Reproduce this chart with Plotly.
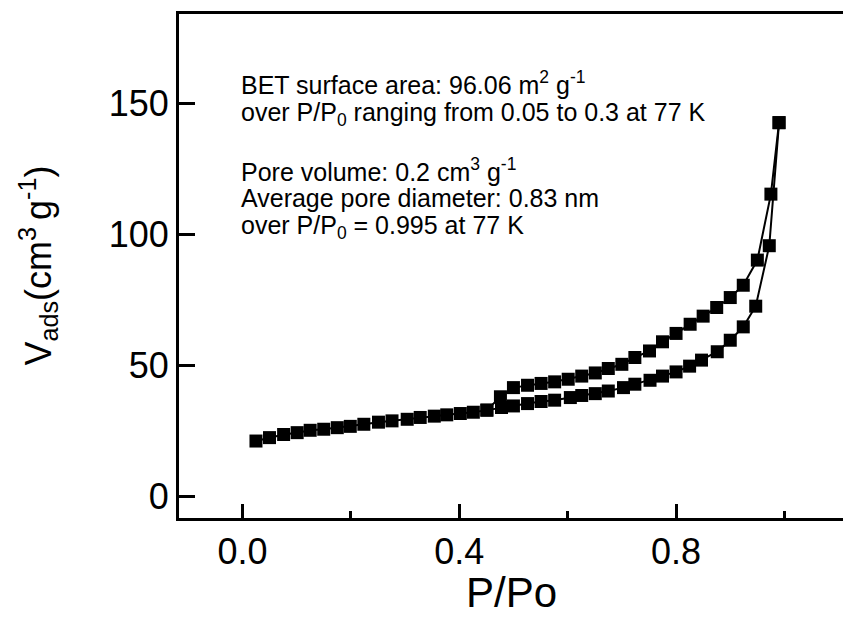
import plotly.graph_objects as go

# Adsorption branch
ads_p = [0.025, 0.050, 0.076, 0.101, 0.125, 0.150, 0.175, 0.199, 0.224, 0.251,
         0.276, 0.304, 0.328, 0.354, 0.377, 0.402, 0.426, 0.451, 0.478, 0.500,
         0.526, 0.551, 0.576, 0.605, 0.626, 0.651, 0.675, 0.703, 0.724, 0.752,
         0.775, 0.800, 0.825, 0.847, 0.876, 0.900, 0.924, 0.947, 0.972, 0.990]
ads_v = [21.0, 22.3, 23.5, 24.2, 25.1, 25.5, 26.1, 26.6, 27.4, 28.2,
         28.7, 29.3, 30.0, 30.5, 31.0, 31.5, 32.0, 32.8, 33.8, 34.4,
         35.3, 36.1, 36.6, 37.6, 38.4, 39.1, 40.1, 41.4, 42.7, 44.2,
         45.8, 47.4, 49.6, 51.9, 55.1, 59.5, 64.6, 72.5, 95.6, 142.6]

# Desorption branch
des_p = [0.990, 0.975, 0.950, 0.924, 0.900, 0.875, 0.850, 0.826, 0.800, 0.775,
         0.751, 0.724, 0.700, 0.675, 0.651, 0.626, 0.601, 0.576, 0.551, 0.526,
         0.500, 0.476, 0.451]
des_v = [142.6, 115.3, 90.1, 80.5, 75.8, 72.0, 68.7, 65.6, 62.1, 58.9,
         55.4, 52.9, 50.3, 48.7, 47.0, 45.8, 44.6, 43.6, 43.0, 42.3,
         41.4, 37.9, 32.8]

x_ticks = [0.0, 0.4, 0.8]
x_ticktext = ["0.0", "0.4", "0.8"]
x_minor = [0.2, 0.6, 1.0]
y_ticks = [0, 50, 100, 150]

notes = [
    ("BET surface area: 96.06 m<sup>2</sup> g<sup>-1</sup>", 157.6),
    ("over P/P<sub>0</sub> ranging from 0.05 to 0.3 at 77 K", 145.8),
    ("Pore volume: 0.2 cm<sup>3</sup> g<sup>-1</sup>", 124.6),
    ("Average pore diameter: 0.83 nm", 113.9),
    ("over P/P<sub>0</sub> = 0.995 at 77 K", 102.9),
]

FONT = "Liberation Sans, Arial, sans-serif"

fig = go.Figure()
for xs, ys in [(ads_p, ads_v), (des_p, des_v)]:
    fig.add_trace(go.Scatter(
        x=xs, y=ys, mode="lines+markers",
        line=dict(color="black", width=2),
        marker=dict(symbol="square", size=13, color="black"),
        showlegend=False,
    ))

for txt, yv in notes:
    fig.add_annotation(x=-0.005, y=yv, xref="x", yref="y", text=txt,
                       showarrow=False, xanchor="left", yanchor="middle",
                       borderpad=0,
                       font=dict(family=FONT, size=25, color="black"))

fig.add_annotation(x=0.5, y=-0.197, xref="paper", yref="paper", text="P/Po",
                   showarrow=False, xanchor="center", yanchor="bottom",
                   borderpad=0,
                   font=dict(family=FONT, size=42, color="black"))
fig.add_annotation(x=-0.213, y=0.5, xref="paper", yref="paper",
                   text="V<sub>ads</sub>(cm<sup>3 </sup>g<sup>-1</sup>)",
                   textangle=-90, showarrow=False, xanchor="center", yanchor="middle",
                   font=dict(family=FONT, size=36, color="black"))

fig.update_layout(
    width=843, height=617,
    margin=dict(l=178.5, r=0, t=14, b=99.3, pad=0),
    paper_bgcolor="white", plot_bgcolor="white",
    font=dict(family=FONT, color="black"),
)
fig.update_xaxes(
    range=[-0.117, 1.108], showgrid=False, zeroline=False,
    showline=True, linecolor="black", linewidth=3, mirror=True,
    tickvals=x_ticks, ticktext=x_ticktext, ticks="inside", ticklen=14,
    tickwidth=2.5, tickcolor="black", tickfont=dict(family=FONT, size=36),
    minor=dict(tickvals=x_minor, ticks="inside", ticklen=7, tickwidth=2.5,
               tickcolor="black", showgrid=False),
)
fig.update_yaxes(
    range=[-8.4, 184.1], showgrid=False, zeroline=False,
    showline=True, linecolor="black", linewidth=3, mirror=False,
    tickvals=y_ticks, ticks="inside", ticklen=16, tickwidth=2.5,
    tickcolor="black", tickfont=dict(family=FONT, size=36),
)

fig.write_html("out.html")
